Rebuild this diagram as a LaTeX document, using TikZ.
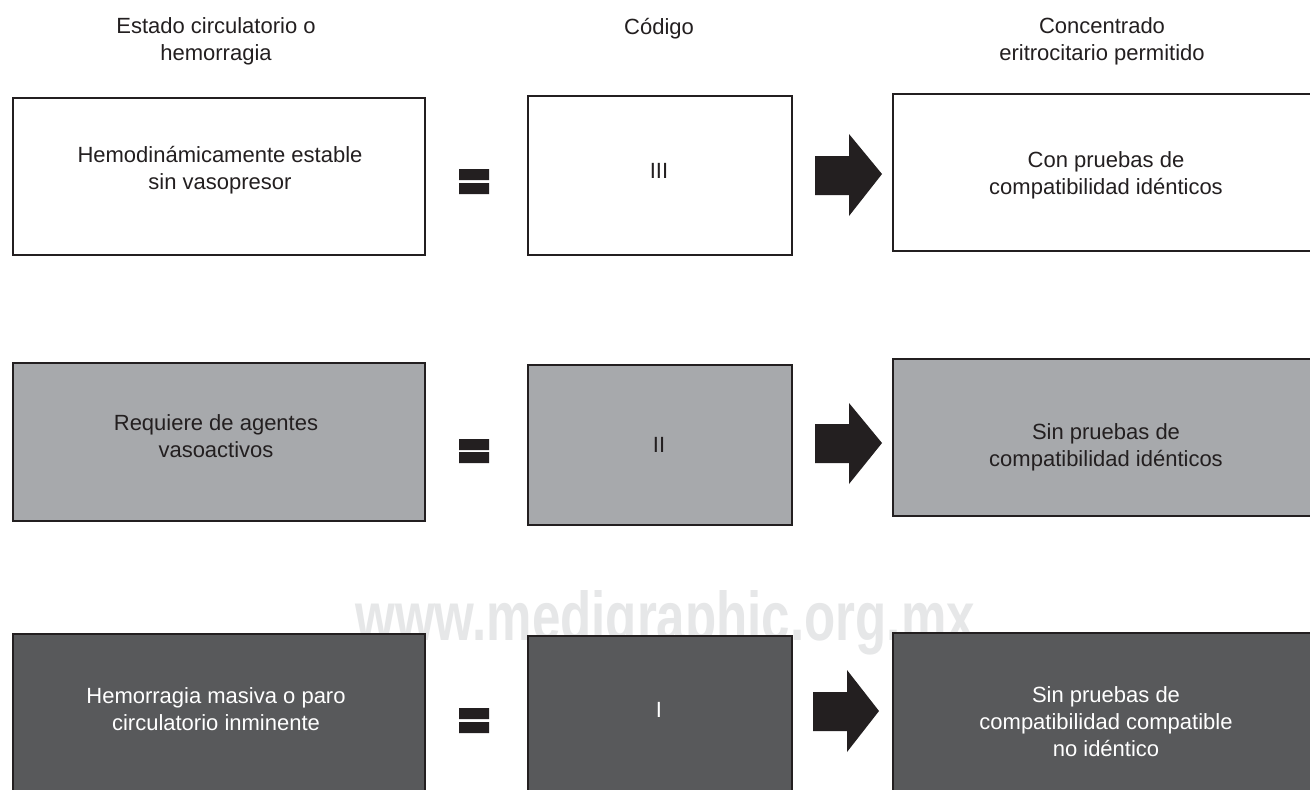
\documentclass[tikz,border=0pt]{standalone}
\usepackage{fontspec}
\setmainfont{Liberation Sans}
\newfontfamily\wmfont{Liberation Sans}
\definecolor{ink}{HTML}{231F20}
\definecolor{midgray}{HTML}{A7A9AC}
\definecolor{darkgray}{HTML}{58595B}
\definecolor{wmgray}{HTML}{E6E7E8}
\begin{document}
\begin{tikzpicture}[x=0.5pt,y=-0.5pt,
  cell/.style={draw=ink, line width=0.8pt, rectangle, anchor=north west, inner sep=0pt},
  wcell/.style={cell, fill=white},
  gcell/.style={cell, fill=midgray},
  dcell/.style={cell, fill=darkgray},
  txt/.style={font=\fontsize{11}{13.5}\selectfont, align=center, inner sep=0pt, text=ink,
    execute at begin node=\strut, execute at end node=\strut},
  wtxt/.style={txt, text=white},
  solid/.style={fill=ink, draw=none}]
\useasboundingbox (0,0) rectangle (1310,789);
\clip (0,0) rectangle (1310,789);
\fill[white] (0,0) rectangle (1310,789);

% watermark (behind the boxes)
\node[font=\wmfont\bfseries\fontsize{34.5}{40}\selectfont, text=wmgray, xscale=0.74,
  anchor=base, inner sep=0pt] (wm) at (665,640) {www.medigraphic.org.mx};

% headers
\node[txt] (h1) at (216,43) {Estado circulatorio o\\hemorragia};
\node[txt] (h2) at (659,28.6) {Código};
\node[txt] (h3) at (1102,43) {Concentrado\\eritrocitario permitido};

% row 1 (sizes in pt: 1 px = 0.5 pt)
\node[wcell, minimum width=206pt, minimum height=78.5pt] (l1) at (12,97) {};
\node[wcell, minimum width=132pt, minimum height=79.5pt] (c1) at (527,95) {};
\node[wcell, minimum width=220pt, minimum height=78.5pt] (r1) at (892,93) {};
% row 2
\node[gcell, minimum width=206pt, minimum height=79pt] (l2) at (12,362) {};
\node[gcell, minimum width=132pt, minimum height=80pt] (c2) at (527,364) {};
\node[gcell, minimum width=220pt, minimum height=78.5pt] (r2) at (892,358) {};
% row 3
\node[dcell, minimum width=206pt, minimum height=100pt] (l3) at (12,633) {};
\node[dcell, minimum width=132pt, minimum height=100pt] (c3) at (527,635) {};
\node[dcell, minimum width=220pt, minimum height=100pt] (r3) at (892,632) {};

% texts
\node[txt] (t11) at (220,171.6) {Hemodinámicamente estable\\sin vasopresor};
\node[txt] (t12) at (659,172.6) {III};
\node[txt] (t13) at (1106,176.6) {Con pruebas de\\compatibilidad idénticos};
\node[txt] (t21) at (216,440.2) {Requiere de agentes\\vasoactivos};
\node[txt] (t22) at (659,446.6) {II};
\node[txt] (t23) at (1106,448.6) {Sin pruebas de\\compatibilidad idénticos};
\node[wtxt] (t31) at (216,712.6) {Hemorragia masiva o paro\\circulatorio inminente};
\node[wtxt] (t32) at (659,711.6) {I};
\node[wtxt] (t33) at (1106,725.6) {Sin pruebas de\\compatibilidad compatible\\no idéntico};

% equal signs
\fill[solid] (459,169) rectangle (489,180) (459,183) rectangle (489,194);
\fill[solid] (459,439) rectangle (489,450) (459,452) rectangle (489,463);
\fill[solid] (459,708) rectangle (489,719) (459,722) rectangle (489,733);

% block arrows
\fill[solid] (815,156) -- (849,156) -- (849,134) -- (882,174) -- (849,216) -- (849,195) -- (815,195) -- cycle;
\fill[solid] (815,424) -- (849,424) -- (849,403) -- (882,443) -- (849,484) -- (849,463) -- (815,463) -- cycle;
\fill[solid] (813,692) -- (847,692) -- (847,670) -- (879,711) -- (847,752) -- (847,731) -- (813,731) -- cycle;
\end{tikzpicture}
\end{document}
